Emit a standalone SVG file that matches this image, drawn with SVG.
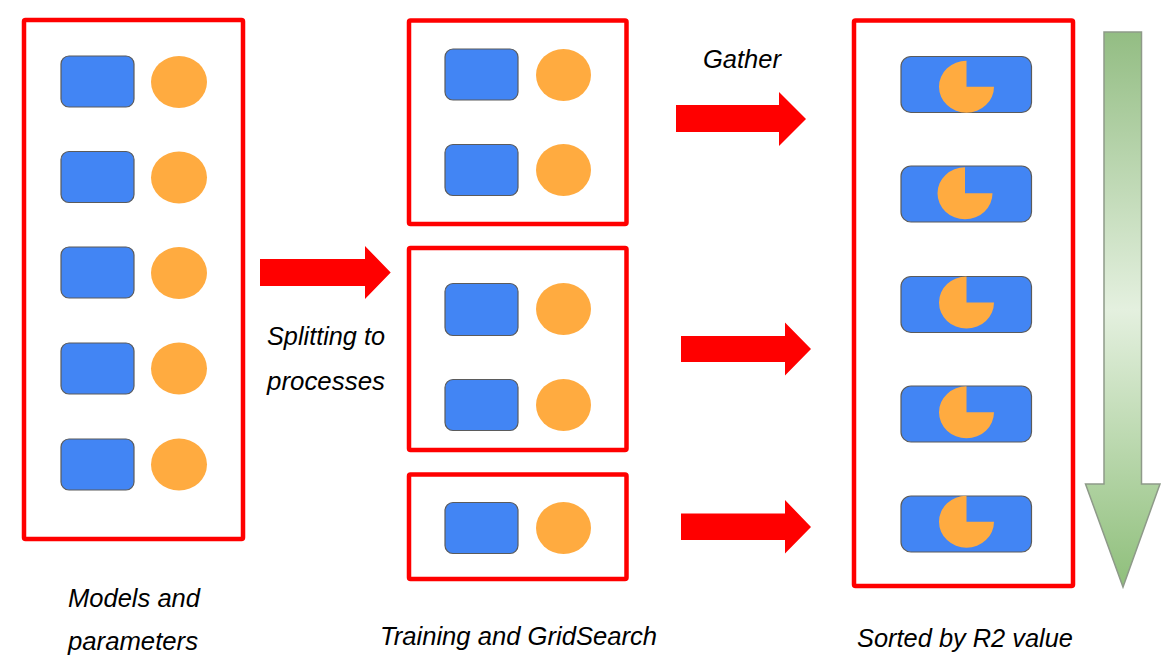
<svg xmlns="http://www.w3.org/2000/svg" width="1166" height="664" viewBox="0 0 1166 664">
<defs>
<style>
.box{fill:none;stroke:#ff0000;stroke-width:4.5;stroke-linejoin:round}
.blk{fill:#4285f4;stroke:#5b5b5b;stroke-width:1.2}
.dot{fill:#ffab40}
.arr{fill:#ff0000}
.lbl{font-family:"Liberation Sans",Arial,sans-serif;font-style:italic;font-size:25px;fill:#000}
</style>
<linearGradient id="g" gradientUnits="userSpaceOnUse" x1="0" y1="32" x2="0" y2="587">
<stop offset="0" stop-color="#93bd83"/>
<stop offset="0.5" stop-color="#e4f0df"/>
<stop offset="1" stop-color="#8fbf7b"/>
</linearGradient>
</defs>
<rect width="1166" height="664" fill="#ffffff"/>

<g id="input">
<rect class="box" x="24" y="20" width="219" height="519" rx="1.5"/>
<rect class="blk" x="61" y="56" width="73" height="51" rx="8"/>
<ellipse class="dot" cx="179" cy="82" rx="28" ry="26"/>
<rect class="blk" x="61" y="151.5" width="73" height="51" rx="8"/>
<ellipse class="dot" cx="179" cy="177.5" rx="28" ry="26"/>
<rect class="blk" x="61" y="247" width="73" height="51" rx="8"/>
<ellipse class="dot" cx="179" cy="273" rx="28" ry="26"/>
<rect class="blk" x="61" y="343" width="73" height="51" rx="8"/>
<ellipse class="dot" cx="179" cy="368.5" rx="28" ry="26"/>
<rect class="blk" x="61" y="439" width="73" height="51" rx="8"/>
<ellipse class="dot" cx="179" cy="464.5" rx="28" ry="26"/>
</g>

<g id="proc1">
<rect class="box" x="409" y="20.5" width="217.5" height="203.5" rx="1.5"/>
<rect class="blk" x="445" y="49" width="73" height="51" rx="8"/>
<ellipse class="dot" cx="563.5" cy="75" rx="27.5" ry="26"/>
<rect class="blk" x="445" y="144.5" width="73" height="51" rx="8"/>
<ellipse class="dot" cx="563.5" cy="170" rx="27.5" ry="26"/>
</g>

<g id="proc2">
<rect class="box" x="409" y="248" width="217.5" height="202" rx="1.5"/>
<rect class="blk" x="445" y="283.5" width="73" height="52" rx="8"/>
<ellipse class="dot" cx="563.5" cy="309" rx="27.5" ry="26"/>
<rect class="blk" x="445" y="379.5" width="73" height="51" rx="8"/>
<ellipse class="dot" cx="563.5" cy="405" rx="27.5" ry="26"/>
</g>

<g id="proc3">
<rect class="box" x="409" y="474.5" width="217.5" height="104.5" rx="1.5"/>
<rect class="blk" x="445" y="502.5" width="73" height="51" rx="8"/>
<ellipse class="dot" cx="563.5" cy="528" rx="27.5" ry="26"/>
</g>

<g id="results">
<rect class="box" x="854" y="20.5" width="219" height="565.5" rx="1.5"/>
<rect class="blk" x="901" y="56.5" width="130.5" height="56" rx="10"/>
<path class="dot" d="M966.5,86.7 L966.5,60.7 A27.5,26 0 1 0 994,86.7 Z"/>
<rect class="blk" x="901" y="166" width="130.5" height="56" rx="10"/>
<path class="dot" d="M965,193.3 L965,167.3 A27.5,26 0 1 0 992.5,193.3 Z"/>
<rect class="blk" x="901" y="276.5" width="130.5" height="56" rx="10"/>
<path class="dot" d="M966.5,302.5 L966.5,276.5 A27.5,26 0 1 0 994,302.5 Z"/>
<rect class="blk" x="901" y="386" width="130.5" height="56" rx="10"/>
<path class="dot" d="M966.5,412.3 L966.5,386.3 A27.5,26 0 1 0 994,412.3 Z"/>
<rect class="blk" x="901" y="496" width="130.5" height="56" rx="10"/>
<path class="dot" d="M966.5,521.7 L966.5,495.7 A27.5,26 0 1 0 994,521.7 Z"/>
</g>

<g id="sort-arrow">
<polygon points="1104,32 1141.5,32 1141.5,484 1160,484 1123,587 1085.5,484 1104,484" fill="url(#g)" stroke="#8e9a89" stroke-width="1.5" stroke-linejoin="miter"/>
</g>

<g id="connectors">
<polygon class="arr" points="260,259 365,259 365,246 390.7,272.5 365,299 365,286 260,286"/>
<polygon class="arr" points="676,105 779,105 779,92 806,119 779,146 779,132 676,132"/>
<polygon class="arr" points="681,336 785,336 785,322.5 811,349 785,375.5 785,362 681,362"/>
<polygon class="arr" points="681,513.5 785,513.5 785,500 811,527 785,553.5 785,540 681,540"/>
</g>

<g id="labels">
<text class="lbl" x="703" y="68" textLength="78" lengthAdjust="spacingAndGlyphs">Gather</text>
<text class="lbl" x="267" y="345" textLength="118" lengthAdjust="spacingAndGlyphs">Splitting to</text>
<text class="lbl" x="267" y="390" textLength="118" lengthAdjust="spacingAndGlyphs">processes</text>
<text class="lbl" x="68" y="607" textLength="132" lengthAdjust="spacingAndGlyphs">Models and</text>
<text class="lbl" x="68" y="650" textLength="130" lengthAdjust="spacingAndGlyphs">parameters</text>
<text class="lbl" x="380" y="645" textLength="277" lengthAdjust="spacingAndGlyphs">Training and GridSearch</text>
<text class="lbl" x="857" y="647" textLength="216" lengthAdjust="spacingAndGlyphs">Sorted by R2 value</text>
</g>
</svg>
